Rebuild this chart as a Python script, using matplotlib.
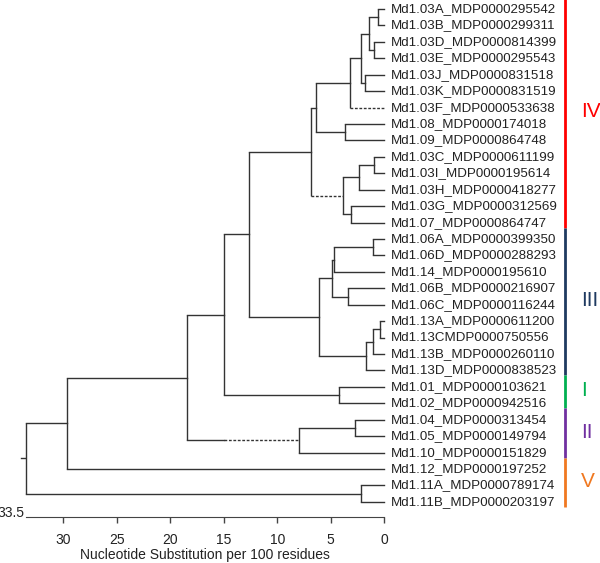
import matplotlib.pyplot as plt

plt.rcParams['font.family'] = ['Liberation Sans', 'DejaVu Sans']

# leaf labels, top to bottom
leaves = [
    'Md1.03A_MDP0000295542', 'Md1.03B_MDP0000299311', 'Md1.03D_MDP0000814399',
    'Md1.03E_MDP0000295543', 'Md1.03J_MDP0000831518', 'Md1.03K_MDP0000831519',
    'Md1.03F_MDP0000533638', 'Md1.08_MDP0000174018', 'Md1.09_MDP0000864748',
    'Md1.03C_MDP0000611199', 'Md1.03I_MDP0000195614', 'Md1.03H_MDP0000418277',
    'Md1.03G_MDP0000312569', 'Md1.07_MDP0000864747', 'Md1.06A_MDP0000399350',
    'Md1.06D_MDP0000288293', 'Md1.14_MDP0000195610', 'Md1.06B_MDP0000216907',
    'Md1.06C_MDP0000116244', 'Md1.13A_MDP0000611200', 'Md1.13CMDP0000750556',
    'Md1.13B_MDP0000260110', 'Md1.13D_MDP0000838523', 'Md1.01_MDP0000103621',
    'Md1.02_MDP0000942516', 'Md1.04_MDP0000313454', 'Md1.05_MDP0000149794',
    'Md1.10_MDP0000151829', 'Md1.12_MDP0000197252', 'Md1.11A_MDP0000789174',
    'Md1.11B_MDP0000203197',
]

# internal nodes: name -> (child a, child b, height)
# ints are leaf indices, strings are other nodes
nodes = {
    'n1': (0, 1, 0.56),
    'n2': (2, 3, 0.96),
    'n3': ('n1', 'n2', 1.40),
    'n4': (4, 5, 1.80),
    'n5': ('n3', 'n4', 2.20),
    'n6': ('n5', 6, 3.20),
    'n7': (7, 8, 3.67),
    'n8': ('n6', 'n7', 6.41),
    'n9': (9, 10, 0.96),
    'n10': ('n9', 11, 2.34),
    'n11': (12, 13, 3.11),
    'n12': ('n10', 'n11', 3.89),
    'n13': ('n8', 'n12', 6.85),
    'n14': (14, 15, 1.08),
    'n15': ('n14', 16, 4.67),
    'n16': (17, 18, 3.42),
    'n17': ('n15', 'n16', 4.86),
    'n18': (19, 20, 0.40),
    'n19': ('n18', 21, 1.08),
    'n20': ('n19', 22, 1.71),
    'n21': ('n17', 'n20', 6.10),
    'n22': ('n13', 'n21', 12.64),
    'n23': (23, 24, 4.23),
    'n24': ('n22', 'n23', 14.98),
    'n25': (25, 26, 2.74),
    'n26': ('n25', 27, 7.97),
    'n27': ('n24', 'n26', 18.40),
    'n28': ('n27', 28, 29.70),
    'n29': (29, 30, 2.18),
    'n30': ('n28', 'n29', 33.50),
}
root = 'n30'

# branches drawn dashed: child -> distance where the dashes start
dashed = {6: 3.20, 'n12': 6.85, 'n26': 15.0}

# clades: name, first leaf, last leaf, colour
groups = ['IV', 'III', 'I', 'II', 'V']
group_first = [0, 14, 23, 25, 28]
group_last = [13, 22, 24, 27, 30]
group_colors = ['#FF0000', '#1F3A60', '#00B050', '#7030A0', '#F07820']

ticks = [30, 25, 20, 15, 10, 5, 0]

fig = plt.figure(figsize=(6, 5.63), dpi=100)
ax = fig.add_axes([0, 46 / 563, 1, 517 / 563])
ax.set_xlim(35.92, -20.18)
ax.set_ylim(30.92, -0.548)

lc = '#333333'
ypos = {}
hpos = {}


def place(n):
    if isinstance(n, int):
        ypos[n] = n
        hpos[n] = 0.0
        return
    a, b, h = nodes[n]
    place(a)
    place(b)
    ypos[n] = (ypos[a] + ypos[b]) / 2
    hpos[n] = h


place(root)

for n, (a, b, h) in nodes.items():
    ax.plot([h, h], [ypos[a], ypos[b]], color=lc, lw=1.0, solid_capstyle='butt')
    for c in (a, b):
        if c in dashed:
            d0 = dashed[c]
            if d0 < h:
                ax.plot([h, d0], [ypos[c], ypos[c]], color=lc, lw=1.0)
            ax.plot([d0, hpos[c]], [ypos[c], ypos[c]], color=lc, lw=1.0,
                    ls=(0, (2, 1.2)))
        else:
            ax.plot([h, hpos[c]], [ypos[c], ypos[c]], color=lc, lw=1.0)

# little root stub
ax.plot([33.95, 33.6], [ypos[root], ypos[root]], color=lc, lw=1.0)

for i, name in enumerate(leaves):
    ax.text(-0.63, i, name, ha='left', va='center', fontsize=9.6, color='#222222')

for g, f, l, col in zip(groups, group_first, group_last, group_colors):
    y0 = f - 0.7 if f > 0 else -0.6
    y1 = l + 0.3
    ax.plot([-16.95, -16.95], [y0, y1], color=col, lw=2.0, solid_capstyle='butt')
    ax.text(-18.38, (f + l) / 2 - 0.25, g, ha='left', va='center', fontsize=15,
            color=col)

for s in ['top', 'left', 'right']:
    ax.spines[s].set_visible(False)
ax.spines['bottom'].set_bounds(0, 33.5)
ax.spines['bottom'].set_color('#444444')
ax.set_yticks([])
ax.set_xticks(ticks)
ax.set_xticklabels([str(t) for t in ticks])
ax.tick_params(axis='x', direction='out', length=4.3, width=1.0, color='#444444',
               pad=7, labelsize=10, labelcolor='#222222')
ax.text(33.67, 30.68, '33.5', ha='right', va='center', fontsize=10, color='#222222')
ax.set_xlabel('Nucleotide Substitution per 100 residues', fontsize=10,
              color='#222222')
ax.xaxis.set_label_coords((35.92 - 16.75) / (35.92 + 20.18), -0.060)

fig.savefig('out.png', dpi=100)
